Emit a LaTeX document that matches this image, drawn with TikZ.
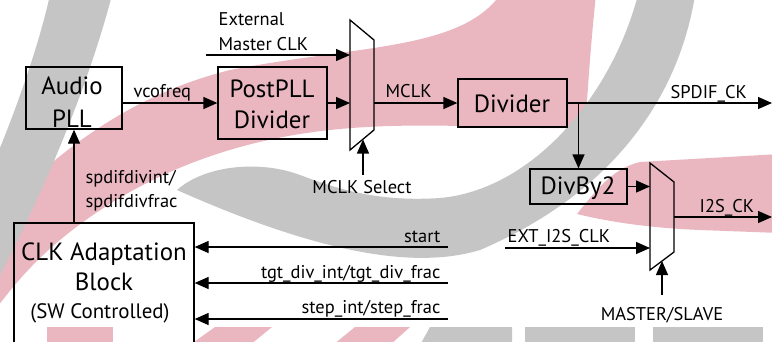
\documentclass[tikz,border=0pt]{standalone}
\usepackage{fontspec}
\setmainfont{PT Sans}
\usetikzlibrary{arrows.meta}
\definecolor{wmred}{RGB}{234,183,193}
\definecolor{wmgray}{RGB}{197,197,197}
\begin{document}
\begin{tikzpicture}[x=1bp,y=-1bp,line width=1.3bp,
  boxst/.style={draw,line width=1.3bp,inner sep=0pt},
  bigt/.style={inner sep=0pt,font=\fontsize{25}{30}\selectfont},
  midt/.style={inner sep=0pt,font=\fontsize{21}{25}\selectfont},
  lbl/.style={inner sep=0pt,font=\fontsize{18.5}{22}\selectfont},
  arr/.style={-{Triangle[length=14bp,width=12bp]},line width=1.3bp}]
\useasboundingbox (0,0) rectangle (772,341);
\fill[white] (0,0) rectangle (772,341);
% ---- watermark ----
\fill[wmred] (-5,215) .. controls (60,150) and (130,95) .. (230,70)
  .. controls (360,45) and (460,50) .. (500,-5) -- (596,-5)
  .. controls (590,50) and (588,90) .. (585,128)
  .. controls (500,130) and (400,118) .. (300,134)
  .. controls (200,150) and (120,190) .. (60,240)
  .. controls (30,265) and (10,290) .. (-5,310) -- cycle;
\fill[wmred] (577,214) .. controls (600,185) and (615,168) .. (640,162)
  -- (780,154) -- (780,233) -- (700,230) .. controls (650,228) and (610,222) .. (577,214) -- cycle;
\fill[wmgray] (695,-5) .. controls (680,90) and (620,190) .. (480,250)
  .. controls (420,268) and (330,258) .. (177,190)
  .. controls (205,165) and (260,160) .. (300,175)
  .. controls (340,190) and (380,202) .. (440,198)
  .. controls (530,190) and (610,100) .. (638,-5) -- cycle;
\fill[wmgray] (50,-5) -- (112,-5) .. controls (95,60) and (60,160) .. (0,275)
  -- (-5,275) -- (-5,160) .. controls (20,100) and (40,40) .. (50,-5) -- cycle;
\fill[wmred] (47,327) rectangle (113,345);
\fill[wmred] (215,327) -- (272,327) -- (250,345) -- (190,345) -- cycle;
\fill[wmred] (355,327) -- (410,327) -- (390,345) -- (333,345) -- cycle;
\fill[wmgray] (430,327) -- (512,327) -- (512,345) -- (420,345) -- cycle;
\fill[wmgray] (525,327) rectangle (635,345);
\fill[wmgray] (653,327) rectangle (763,345);
% ---- boxes ----
\node[boxst,minimum width=96bp,minimum height=62bp] (pll) at (74,98) {};
\node[boxst,minimum width=109bp,minimum height=72bp] (post) at (272.5,103) {};
\node[boxst,minimum width=109bp,minimum height=48bp] (div) at (512.5,103) {};
\node[boxst,minimum width=97bp,minimum height=35bp] (by2) at (578.5,186.5) {};
\node[boxst,minimum width=180bp,minimum height=140bp] (clk) at (104,293) {};
% box texts
\node[bigt,anchor=base] (tpll1) at (72,94) {Audio};
\node[bigt,anchor=base] (tpll2) at (72,127) {PLL};
\node[bigt,anchor=base] (tpost1) at (272,97) {PostPLL};
\node[bigt,anchor=base] (tpost2) at (272,128) {Divider};
\node[bigt,anchor=base] (tdiv) at (512,112) {Divider};
\node[bigt,anchor=base] (tby2) at (578,194) {DivBy2};
\node[bigt,anchor=base] (tclk1) at (104,260) {CLK Adaptation};
\node[bigt,anchor=base] (tclk2) at (104,290) {Block};
\node[midt,anchor=base] (tclk3) at (100,318) {(SW Controlled)};
% ---- muxes ----
\draw[line width=1.3bp] (350,20) coordinate (m1tl) -- (374,40) -- (374,130) -- (350,150) -- cycle;
\draw[line width=1.3bp] (650,163) coordinate (m2tl) -- (674,182) -- (674,252) -- (650,270) -- cycle;
\coordinate (m1a) at (350,55);
\coordinate (m1b) at (350,103);
\coordinate (m1out) at (374,103);
\coordinate (m1sel) at (363,139.5);
\coordinate (m2a) at (650,186.5);
\coordinate (m2b) at (650,248);
\coordinate (m2out) at (674,217);
\coordinate (m2sel) at (662,261);
\coordinate (extsrc) at (206,55);
\coordinate (spdifend) at (772,103);
\coordinate (i2send) at (772,217);
\coordinate (selsrc) at (363,175);
\coordinate (mssrc) at (662,295);
\coordinate (extclk) at (505,248);
\coordinate (startsrc) at (448,247);
\coordinate (tgtsrc) at (448,283);
\coordinate (stepsrc) at (448,319);
\coordinate (branch) at (578.5,103);
% ---- connectors ----
\draw[arr] (pll.east |- post.west) -- (post.west);
\draw[arr] (extsrc) -- (m1a);
\draw[arr] (post.east) -- (m1b);
\draw[arr] (m1out) -- (div.west);
\draw[arr] (div.east) -- (spdifend);
\draw[arr] (branch) -- (by2.north);
\draw[arr] (by2.east) -- (m2a);
\draw[arr] (extclk) -- (m2b);
\draw[arr] (m2out) -- (i2send);
\draw[arr] (selsrc) -- (m1sel);
\draw[arr] (mssrc) -- (m2sel);
\draw[arr] (clk.north -| pll.south) -- (pll.south);
\draw[arr] (startsrc) -- (startsrc -| clk.east);
\draw[arr] (tgtsrc) -- (tgtsrc -| clk.east);
\draw[arr] (stepsrc) -- (stepsrc -| clk.east);
% ---- labels ----
\node[lbl,anchor=base west] (lext1) at (218,25) {External};
\node[lbl,anchor=base west] (lext2) at (218,50) {Master CLK};
\node[lbl,anchor=base west] (lvco) at (133,97) {vcofreq};
\node[lbl,anchor=base west] (lmclk) at (385,97) {MCLK};
\node[lbl,anchor=base west] (lspdif) at (670,98) {SPDIF\_CK};
\node[lbl,anchor=base] (lsel) at (362,193) {MCLK Select};
\node[lbl,anchor=base west] (lsd1) at (85,183) {spdifdivint/};
\node[lbl,anchor=base west] (lsd2) at (85,207) {spdifdivfrac};
\node[lbl,anchor=base east] (lstart) at (441,242) {start};
\node[lbl,anchor=base east] (ltgt) at (441,278) {tgt\_div\_int/tgt\_div\_frac};
\node[lbl,anchor=base east] (lstep) at (441,313) {step\_int/step\_frac};
\node[lbl,anchor=base west] (lext) at (507,242) {EXT\_I2S\_CLK};
\node[lbl,anchor=base west] (li2s) at (699,212) {I2S\_CK};
\node[lbl,anchor=base] (lms) at (662,320) {MASTER/SLAVE};
\end{tikzpicture}
\end{document}
